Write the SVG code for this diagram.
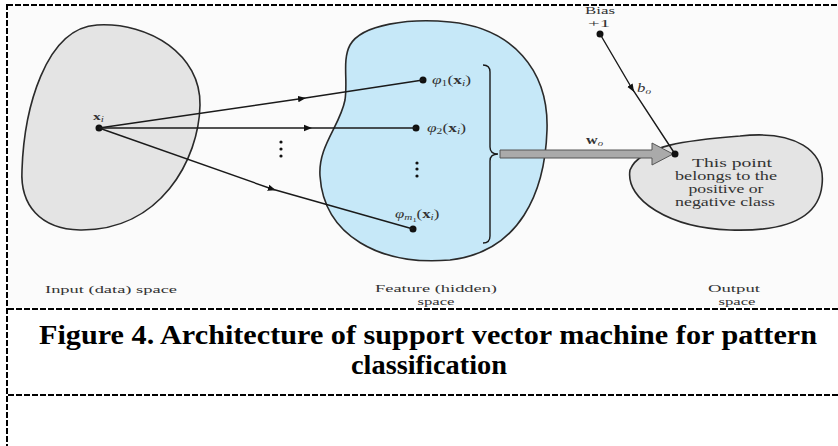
<svg xmlns="http://www.w3.org/2000/svg" width="838" height="446" viewBox="0 0 838 446" font-family="'Liberation Serif', 'Times New Roman', serif">
<defs>
<style>
.blob{stroke:#2a2a2a;stroke-width:1.6}
.ln{stroke:#1a1a1a;stroke-width:1.4;fill:none}
.dot{fill:#111}
.lbl{fill:#333}
.cap{font-weight:bold;fill:#000}
.dash{stroke:#000;stroke-width:2;stroke-dasharray:6 2;fill:none}
</style>
<marker id="mid" viewBox="0 0 10 10" refX="5" refY="5" markerWidth="8" markerHeight="8" orient="auto" markerUnits="userSpaceOnUse">
<path d="M0,1 L10,5 L0,9 Z" fill="#111"/>
</marker>
</defs>
<rect width="838" height="446" fill="#fff"/>
<rect x="8" y="6" width="830" height="301" fill="#fbfbfb"/>
<g id="borders">
<line class="dash" x1="7" y1="5" x2="838" y2="5" stroke-dasharray="8 4"/>
<line class="dash" x1="7" y1="4" x2="7" y2="446" stroke-dasharray="5 2"/>
<line class="dash" x1="8" y1="309" x2="838" y2="309"/>
<line class="dash" x1="8" y1="395" x2="838" y2="395"/>
</g>
<g id="input-space">
<path class="blob" fill="#e4e4e4" d="M97,25 C150,22 201,55 200,105 C199,160 160,231 80,230 C40,229 20,205 22,170 C24,110 45,28 97,25 Z"/>
<circle class="dot" cx="99" cy="128" r="3.5"/>
<text class="lbl" transform="translate(93,120) scale(1.4,1)" font-size="11" font-weight="bold" fill="#222">x<tspan font-size="8" font-style="italic" font-weight="normal" dy="2">i</tspan></text>
<text class="lbl" x="45" y="293" font-size="11" textLength="132" lengthAdjust="spacingAndGlyphs">Input (data) space</text>
</g>
<g id="feature-space">
<path class="blob" fill="#c6e8f8" d="M350,45 C362,24 410,18 450,22 C512,28 549,70 547,130 C545,192 520,252 450,260 C380,266 324,236 320,176 C318,146 340,126 345,100 C348,80 342,60 350,45 Z"/>
<circle class="dot" cx="423" cy="80" r="3.5"/>
<circle class="dot" cx="416" cy="128" r="3.5"/>
<circle class="dot" cx="413" cy="229" r="3.5"/>
<text class="lbl" transform="translate(432,84) scale(1.45,1)" font-size="12" fill="#222"><tspan font-style="italic">φ</tspan><tspan font-size="8" dy="2">1</tspan><tspan dy="-2">(</tspan><tspan font-weight="bold">x</tspan><tspan font-size="8" font-style="italic" dy="2">i</tspan><tspan dy="-2">)</tspan></text>
<text class="lbl" transform="translate(427,132) scale(1.45,1)" font-size="12" fill="#222"><tspan font-style="italic">φ</tspan><tspan font-size="8" dy="2">2</tspan><tspan dy="-2">(</tspan><tspan font-weight="bold">x</tspan><tspan font-size="8" font-style="italic" dy="2">i</tspan><tspan dy="-2">)</tspan></text>
<text class="lbl" transform="translate(395,218) scale(1.4,1)" font-size="12" fill="#222"><tspan font-style="italic">φ</tspan><tspan font-size="8" font-style="italic" dy="2">m</tspan><tspan font-size="6" dy="2">1</tspan><tspan dy="-4">(</tspan><tspan font-weight="bold">x</tspan><tspan font-size="8" font-style="italic" dy="2">i</tspan><tspan dy="-2">)</tspan></text>
<circle class="dot" cx="417" cy="163" r="1.6"/>
<circle class="dot" cx="417" cy="169" r="1.6"/>
<circle class="dot" cx="417" cy="176" r="1.6"/>
<path class="ln" d="M483,65 Q490,65 490,72 L490,147 Q490,154 498,154 Q490,154 490,161 L490,236 Q490,243 483,243"/>
<text class="lbl" x="436" y="292" font-size="10.5" text-anchor="middle" textLength="122" lengthAdjust="spacingAndGlyphs">Feature (hidden)</text>
<text class="lbl" x="436" y="305" font-size="10.5" text-anchor="middle" textLength="37" lengthAdjust="spacingAndGlyphs">space</text>
</g>
<g id="output-space">
<path class="blob" fill="#e4e4e4" d="M630,170 C640,145 690,140 740,136 C795,130 826,150 822,185 C819,216 790,232 730,230 C670,228 625,200 630,170 Z"/>
<g class="lbl" font-size="12.5" text-anchor="middle" fill="#222">
<text x="732" y="167" textLength="80" lengthAdjust="spacingAndGlyphs">This point</text>
<text x="726" y="180" textLength="102" lengthAdjust="spacingAndGlyphs">belongs to the</text>
<text x="726" y="193" textLength="75" lengthAdjust="spacingAndGlyphs">positive or</text>
<text x="725" y="206" textLength="100" lengthAdjust="spacingAndGlyphs">negative class</text>
</g>
<text class="lbl" x="734" y="292" font-size="10.5" text-anchor="middle" textLength="52" lengthAdjust="spacingAndGlyphs">Output</text>
<text class="lbl" x="737" y="305" font-size="10.5" text-anchor="middle" textLength="37" lengthAdjust="spacingAndGlyphs">space</text>
</g>
<g id="bias">
<text class="lbl" x="600" y="14" font-size="10.5" text-anchor="middle" textLength="30" lengthAdjust="spacingAndGlyphs">Bias</text>
<text class="lbl" x="599" y="27" font-size="10.5" text-anchor="middle" textLength="22" lengthAdjust="spacingAndGlyphs">+1</text>
<circle class="dot" cx="600" cy="34" r="3.5"/>
<text class="lbl" transform="translate(637,92) scale(1.4,1)" font-size="12" font-style="italic" fill="#222">b<tspan font-size="8" dy="2">o</tspan></text>
</g>
<g id="connectors">
<path class="ln" d="M99,128 L302,98.5 L423,80" marker-mid="url(#mid)"/>
<path class="ln" d="M99,128 L308,128 L416,128" marker-mid="url(#mid)"/>
<path class="ln" d="M99,128 L272,189" marker-end="url(#mid)"/>
<path class="ln" d="M272,189 L413,229"/>
<path class="ln" d="M600,34 L632,88.5 L675,154" marker-mid="url(#mid)"/>
<polygon points="500,150 652,150 652,143 673,154 652,165 652,158 500,158" fill="#aaaaaa" stroke="#555" stroke-width="1"/>
<circle class="dot" cx="675" cy="154" r="3.5"/>
<text class="lbl" transform="translate(586,144) scale(1.35,1)" font-size="12" font-weight="bold" fill="#222">w<tspan font-size="8" font-style="italic" font-weight="normal" dy="2">o</tspan></text>
<circle class="dot" cx="281" cy="142" r="1.6"/>
<circle class="dot" cx="281" cy="149" r="1.6"/>
<circle class="dot" cx="281" cy="156" r="1.6"/>
</g>
<g id="caption">
<text class="cap" x="428" y="344" font-size="28" text-anchor="middle" textLength="778" lengthAdjust="spacingAndGlyphs">Figure  4. Architecture of support vector machine for pattern</text>
<text class="cap" x="429" y="374" font-size="28" text-anchor="middle" textLength="156" lengthAdjust="spacingAndGlyphs">classification</text>
</g>
</svg>
